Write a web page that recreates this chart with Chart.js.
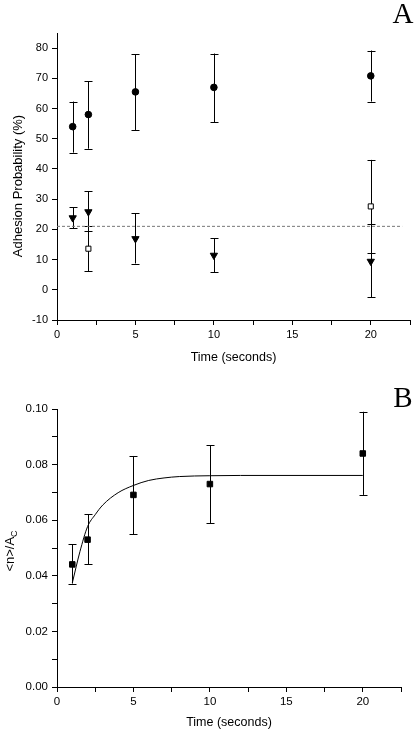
<!DOCTYPE html>
<html>
<head>
<meta charset="utf-8">
<script src="https://cdn.jsdelivr.net/npm/chart.js@4.4.1/dist/chart.umd.min.js"></script>
<style>
  body { margin: 0; background: #fff; }
  canvas { display: block; }
</style>
</head>
<body>
<canvas id="chartA" width="416" height="365"></canvas>
<canvas id="chartB" width="416" height="365"></canvas>
<script>
'use strict';

// Panel A - adhesion probability
let timeA = [1, 2, 5, 10, 20];
let circleProb = [54.0, 58.0, 65.5, 67.0, 70.8];
let circleLow = [45.4, 46.7, 52.9, 55.5, 62.3];
let circleHigh = [62.3, 69.0, 77.9, 78.2, 79.2];
let triangleProb = [23.8, 25.8, 16.9, 11.4, 9.4];
let triangleLow = [20.4, 19.3, 8.7, 5.8, -2.5];
let triangleHigh = [27.4, 32.7, 25.4, 17.1, 21.8];
let squareTime = [2, 20];
let squareProb = [13.6, 27.6];
let squareLow = [6.2, 12.2];
let squareHigh = [21.0, 43.0];
let baselineTime = [0, 22];
let baselineProb = [21, 21];

// Panel B - <n>/Ac
let timeB = [1, 2, 5, 10, 20];
let density = [0.0441, 0.0530, 0.0691, 0.0730, 0.0840];
let densityLow = [0.0372, 0.0442, 0.0550, 0.0590, 0.0691];
let densityHigh = [0.0514, 0.0621, 0.0831, 0.0870, 0.0990];
let fitTime = [1, 1.5, 2, 2.5, 3, 4, 5, 6, 7, 8, 10, 12, 20];
let fitDensity = [0.0374, 0.0487, 0.0577, 0.0620, 0.0655, 0.0699, 0.0725, 0.0743, 0.0752, 0.0757, 0.0760, 0.0761, 0.0761];

function toPoints(xs, ys) {
  let pts = [];
  for (let i = 0; i < xs.length; i++) {
    pts.push({ x: xs[i], y: ys[i] });
  }
  return pts;
}

let tickFont = (size) => ({ family: 'Liberation Sans', size: size });

// error bars go under the markers
let errorBars = {
  id: 'errorBars',
  beforeDatasetsDraw(chart) {
    let ctx = chart.ctx;
    let xs = chart.scales.x;
    let ys = chart.scales.y;
    ctx.save();
    ctx.strokeStyle = '#000';
    ctx.lineWidth = 1;
    chart.data.datasets.forEach(ds => {
      if (!ds.errLow) return;
      ds.data.forEach((p, i) => {
        let px = Math.round(xs.getPixelForValue(p.x)) + 0.5;
        let lo = ys.getPixelForValue(ds.errLow[i]);
        let hi = ys.getPixelForValue(ds.errHigh[i]);
        ctx.beginPath();
        ctx.moveTo(px, lo);
        ctx.lineTo(px, hi);
        ctx.moveTo(px - 4, Math.round(lo) + 0.5);
        ctx.lineTo(px + 4, Math.round(lo) + 0.5);
        ctx.moveTo(px - 4, Math.round(hi) + 0.5);
        ctx.lineTo(px + 4, Math.round(hi) + 0.5);
        ctx.stroke();
      });
    });
    ctx.restore();
  }
};

// panel letter and rotated y title (with subscript)
let decorations = {
  id: 'decorations',
  afterDraw(chart, args, opts) {
    let ctx = chart.ctx;
    ctx.save();
    ctx.fillStyle = '#000';
    ctx.font = '29px "Liberation Serif"';
    ctx.textAlign = 'center';
    ctx.textBaseline = 'alphabetic';
    ctx.fillText(opts.letter, opts.letterX, opts.letterY);

    ctx.translate(opts.titleX, opts.titleY);
    ctx.rotate(-Math.PI / 2);
    ctx.font = '13px "Liberation Sans"';
    let mainW = ctx.measureText(opts.title).width;
    let subW = 0;
    if (opts.sub) {
      ctx.font = '9px "Liberation Sans"';
      subW = ctx.measureText(opts.sub).width;
    }
    let start = -(mainW + subW) / 2;
    ctx.textAlign = 'left';
    ctx.font = '13px "Liberation Sans"';
    ctx.fillText(opts.title, start, 0);
    if (opts.sub) {
      ctx.font = '9px "Liberation Sans"';
      ctx.fillText(opts.sub, start + mainW, 3);
    }
    ctx.restore();
  }
};

function axisCommon(extra) {
  return Object.assign({
    type: 'linear',
    grid: { drawOnChartArea: false, drawTicks: true, tickLength: 5, color: '#000' },
    border: { display: true, color: '#000', width: 1 }
  }, extra);
}

new Chart(document.getElementById('chartA'), {
  type: 'scatter',
  data: {
    datasets: [{
      label: 'circles',
      data: toPoints(timeA, circleProb),
      errLow: circleLow,
      errHigh: circleHigh,
      pointStyle: 'circle',
      pointRadius: 3.3,
      backgroundColor: '#000',
      borderColor: '#000'
    }, {
      label: 'triangles',
      data: toPoints(timeA, triangleProb),
      errLow: triangleLow,
      errHigh: triangleHigh,
      pointStyle: 'triangle',
      pointRotation: 180,
      pointRadius: 4.2,
      backgroundColor: '#000',
      borderColor: '#000'
    }, {
      label: 'squares',
      data: toPoints(squareTime, squareProb),
      errLow: squareLow,
      errHigh: squareHigh,
      pointStyle: 'rect',
      pointRadius: 3.6,
      backgroundColor: '#fff',
      borderColor: '#000',
      borderWidth: 1
    }, {
      label: 'baseline',
      data: toPoints(baselineTime, baselineProb),
      showLine: true,
      pointRadius: 0,
      borderColor: '#777',
      borderWidth: 1,
      borderDash: [3, 2]
    }]
  },
  options: {
    responsive: false,
    animation: false,
    layout: { padding: { top: 33, right: 6, bottom: 0, left: 0 } },
    plugins: {
      legend: { display: false },
      tooltip: { enabled: false },
      decorations: { letter: 'A', letterX: 403, letterY: 23, title: 'Adhesion Probability (%)', titleX: 22, titleY: 186 }
    },
    scales: {
      x: axisCommon({
        min: 0, max: 22.5,
        ticks: {
          stepSize: 2.5, color: '#000', font: tickFont(11), padding: 3, maxRotation: 0,
          callback: (v) => (v % 5 === 0 ? v : '')
        },
        title: { display: true, text: 'Time (seconds)', color: '#000', font: tickFont(12.5), padding: 0 },
        afterFit: (s) => { s.height = 45; }
      }),
      y: axisCommon({
        min: -10, max: 85,
        ticks: {
          stepSize: 5, color: '#000', font: tickFont(11), padding: 4,
          callback: (v) => (v % 10 === 0 ? v : '')
        },
        afterFit: (s) => { s.width = 57; }
      })
    }
  },
  plugins: [errorBars, decorations]
});

new Chart(document.getElementById('chartB'), {
  type: 'scatter',
  data: {
    datasets: [{
      label: 'density',
      data: toPoints(timeB, density),
      errLow: densityLow,
      errHigh: densityHigh,
      pointStyle: 'rect',
      pointRadius: 3.9,
      backgroundColor: '#000',
      borderColor: '#000'
    }, {
      label: 'fit',
      data: toPoints(fitTime, fitDensity),
      showLine: true,
      cubicInterpolationMode: 'monotone',
      pointRadius: 0,
      borderColor: '#000',
      borderWidth: 1
    }]
  },
  options: {
    responsive: false,
    animation: false,
    layout: { padding: { top: 44, right: 15, bottom: 0, left: 0 } },
    plugins: {
      legend: { display: false },
      tooltip: { enabled: false },
      decorations: { letter: 'B', letterX: 403, letterY: 42, title: '<n>/A', sub: 'C', titleX: 13.5, titleY: 186 }
    },
    scales: {
      x: axisCommon({
        min: 0, max: 22.5,
        ticks: {
          stepSize: 2.5, color: '#000', font: tickFont(11.5), padding: 3, maxRotation: 0,
          callback: (v) => (v % 5 === 0 ? v : '')
        },
        title: { display: true, text: 'Time (seconds)', color: '#000', font: tickFont(12.5), padding: 0 },
        afterFit: (s) => { s.height = 43; }
      }),
      y: axisCommon({
        min: 0, max: 0.1,
        ticks: {
          stepSize: 0.01, color: '#000', font: tickFont(11.5), padding: 4,
          callback: (v) => (Math.round(v * 100) % 2 === 0 ? v.toFixed(2) : '')
        },
        afterFit: (s) => { s.width = 57; }
      })
    }
  },
  plugins: [errorBars, decorations]
});
</script>
</body>
</html>
